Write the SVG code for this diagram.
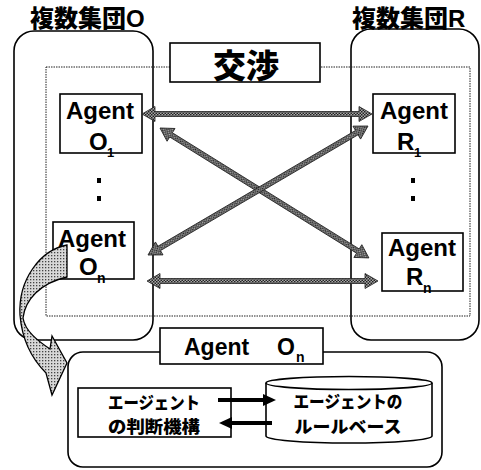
<svg xmlns="http://www.w3.org/2000/svg" width="481" height="470" viewBox="0 0 481 470">
<style>
.frame{fill:none;stroke:#000;stroke-width:1.6}
.dot{fill:none;stroke:#222;stroke-width:1;stroke-dasharray:1.5 1}
.box{fill:#fff;stroke:#000;stroke-width:1.6}
.agent{font-family:"Liberation Sans",Arial,sans-serif;font-weight:bold;fill:#000}
.jp{font-family:"Noto Sans CJK JP","Noto Sans CJK SC",sans-serif;font-weight:900;fill:#000}
.lat{font-family:"Liberation Sans",Arial,sans-serif;font-weight:bold}
.harrow{fill:url(#hatch);stroke:#222;stroke-width:0.8}
</style>
<defs>
<pattern id="hatch" width="3" height="3" patternUnits="userSpaceOnUse">
<rect width="3" height="3" fill="#a8a8a8"/>
<rect width="1.5" height="1.5" fill="#222"/>
<rect x="1.5" y="1.5" width="1.5" height="1.5" fill="#222"/>
</pattern>
<pattern id="dots" width="3" height="3" patternUnits="userSpaceOnUse">
<rect width="3" height="3" fill="#d8d8d8"/>
<rect width="1.3" height="1.3" fill="#444"/>
</pattern>
</defs>
<rect width="481" height="470" fill="#fff"/>

<g id="groupO">
<rect class="frame" x="14" y="31" width="139" height="309" rx="20"/>
<text class="jp" x="30" y="27" font-size="24">複数集団<tspan class="lat">O</tspan></text>
</g>
<g id="groupR">
<rect class="frame" x="351" y="29" width="128" height="311" rx="20"/>
<text class="jp" x="352" y="27" font-size="24">複数集団<tspan class="lat">R</tspan></text>
</g>
<g id="negotiation">
<rect class="dot" x="46" y="67" width="424" height="249"/>
<rect class="box" x="170" y="43" width="150" height="39"/>
<text class="jp" x="246" y="78" font-size="33" text-anchor="middle">交渉</text>
</g>

<g id="agentO1">
<rect class="box" x="60" y="94" width="82" height="59"/>
<text class="agent" x="100" y="119" font-size="24" text-anchor="middle">Agent</text>
<text class="agent" x="89" y="150" font-size="24">O</text>
<text class="agent" x="107" y="157" font-size="13">1</text>
</g>
<g id="dotsO">
<rect x="97" y="178" width="4" height="5" fill="#000"/>
<rect x="97" y="196" width="4" height="5" fill="#000"/>
</g>
<g id="agentOn">
<rect x="53" y="222" width="81" height="57" fill="none" stroke="#000" stroke-width="1.6"/>
<text class="agent" x="92" y="247" font-size="24" text-anchor="middle">Agent</text>
<text class="agent" x="79" y="275" font-size="24">O</text>
<text class="agent" x="97" y="283" font-size="14">n</text>
</g>
<g id="agentR1">
<rect class="box" x="373" y="94" width="82" height="59"/>
<text class="agent" x="414" y="119" font-size="24" text-anchor="middle">Agent</text>
<text class="agent" x="397" y="150" font-size="24">R</text>
<text class="agent" x="414" y="157" font-size="13">1</text>
</g>
<g id="dotsR">
<rect x="411" y="178" width="4" height="5" fill="#000"/>
<rect x="411" y="196" width="4" height="5" fill="#000"/>
</g>
<g id="agentRn">
<rect class="box" x="382" y="233" width="81" height="58"/>
<text class="agent" x="422" y="256" font-size="24" text-anchor="middle">Agent</text>
<text class="agent" x="406" y="285" font-size="24">R</text>
<text class="agent" x="423" y="293" font-size="14">n</text>
</g>

<g id="agentDetail">
<rect class="frame" x="68" y="352" width="374" height="115" rx="15"/>
<rect class="box" x="160" y="328" width="163" height="36"/>
<text class="agent" x="184" y="355" font-size="23">Agent</text>
<text class="agent" x="277" y="355" font-size="23">O</text>
<text class="agent" x="296" y="362" font-size="14">n</text>
</g>
<g id="judgement">
<rect class="box" x="78" y="388" width="153" height="49"/>
<text class="jp" x="154" y="409" font-size="17" text-anchor="middle" textLength="92" lengthAdjust="spacingAndGlyphs">エージェント</text>
<text class="jp" x="154" y="433" font-size="17" text-anchor="middle" textLength="92" lengthAdjust="spacingAndGlyphs">の判断機構</text>
</g>
<g id="rulebase">
<path d="M266 383 L266 436 A83 7 0 0 0 432 436 L432 383" fill="#fff" stroke="#000" stroke-width="1.6"/>
<ellipse cx="349" cy="383" rx="83" ry="6.5" fill="#fff" stroke="#000" stroke-width="1.6"/>
<text class="jp" x="348" y="408" font-size="17" text-anchor="middle" textLength="109" lengthAdjust="spacingAndGlyphs">エージェントの</text>
<text class="jp" x="348" y="433" font-size="17" text-anchor="middle" textLength="107" lengthAdjust="spacingAndGlyphs">ルールベース</text>
</g>

<g id="connectors">
<path class="harrow" transform="translate(142 114)" d="M0 0 L13 -7.5 L13 -2.5 L217 -2.5 L217 -7.5 L230 0 L217 7.5 L217 2.5 L13 2.5 L13 7.5 Z"/>
<path class="harrow" transform="translate(147 281)" d="M0 0 L13 -7.5 L13 -2.5 L218 -2.5 L218 -7.5 L231 0 L218 7.5 L218 2.5 L13 2.5 L13 7.5 Z"/>
<path class="harrow" transform="translate(160 128) rotate(31.88)" d="M0 0 L13 -7.5 L13 -2.5 L233 -2.5 L233 -7.5 L246 0 L233 7.5 L233 2.5 L13 2.5 L13 7.5 Z"/>
<path class="harrow" transform="translate(148 255) rotate(-30.38)" d="M0 0 L13 -7.5 L13 -2.5 L242 -2.5 L242 -7.5 L255 0 L242 7.5 L242 2.5 L13 2.5 L13 7.5 Z"/>
<path d="M67 245 C40 250 18 280 20 315 C22 340 33 360 46 373 L52 395 L67 363 L52 336 L50 349 C38 341 25 331 23 318 C25 300 40 283 67 277 Z" fill="url(#dots)" stroke="#000" stroke-width="1.3"/>
<line x1="218" y1="400" x2="265" y2="400" stroke="#000" stroke-width="4"/>
<polygon points="263,394 276,400 263,406" fill="#000"/>
<line x1="272" y1="423" x2="230" y2="423" stroke="#000" stroke-width="4"/>
<polygon points="232,417 219,423 232,429" fill="#000"/>
</g>
</svg>
